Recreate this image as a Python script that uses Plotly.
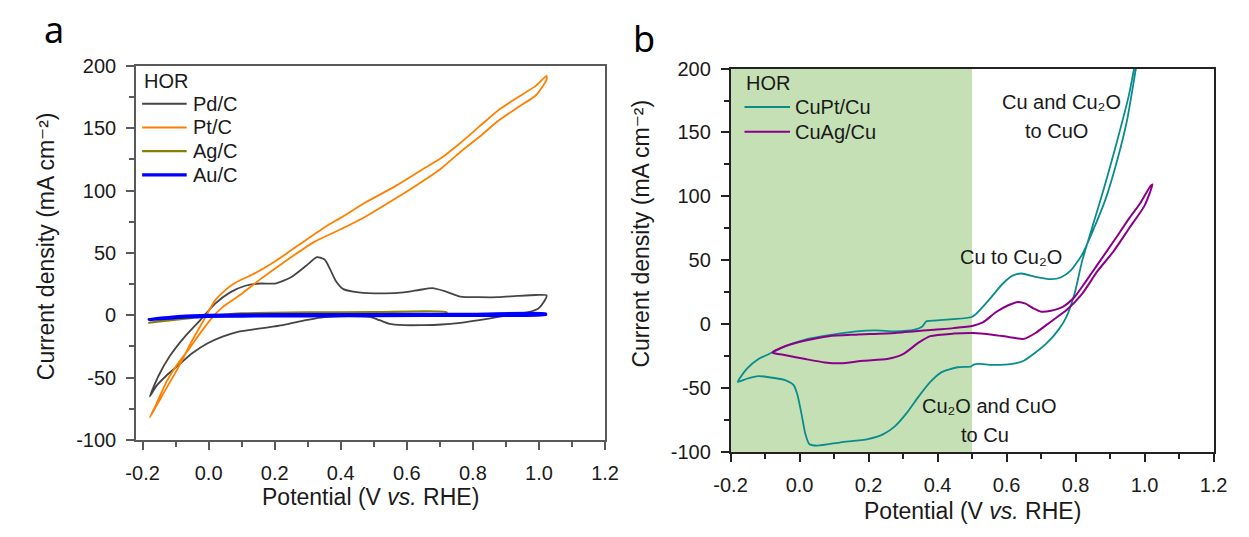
import plotly.graph_objects as go

W, H = 1249, 537

# ---------------- Panel a: HOR cyclic voltammograms on carbon-supported metals
pd_potential = [-0.178, -0.152, -0.118, -0.072, -0.026, 0.019, 0.065, 0.111, 0.157, 0.202, 0.248,
                0.294, 0.328, 0.351, 0.368, 0.385, 0.408, 0.454, 0.534, 0.591, 0.637, 0.677,
                0.717, 0.762, 0.819, 0.877, 0.934, 0.991, 1.023,
                1.014, 0.997, 0.968, 0.934, 0.877, 0.819, 0.762, 0.705, 0.648, 0.591, 0.545,
                0.517, 0.488, 0.454, 0.397, 0.339, 0.294, 0.225, 0.157, 0.088, 0.042, -0.003,
                -0.049, -0.095, -0.129, -0.158, -0.178]
pd_current = [-65.0, -48.7, -32.9, -17.1, -4.0, 9.2, 18.4, 23.7, 25.5, 25.5, 30.3,
              39.5, 46.6, 44.7, 36.8, 27.6, 21.0, 18.4, 17.6, 18.4, 20.3, 21.8,
              19.2, 15.0, 14.5, 14.5, 15.5, 16.3, 16.0,
              10.5, 5.3, 2.6, 1.3, -1.3, -3.9, -6.0, -7.4, -7.9, -7.9, -6.6,
              -3.9, -1.3, -0.8, -0.8, -1.8, -3.9, -7.9, -10.5, -13.2, -17.1, -22.4,
              -30.3, -40.8, -48.7, -56.6, -65.0]

pt_potential = [-0.178, -0.141, -0.095, -0.049, -0.015, 0.019, 0.054, 0.082, 0.134, 0.202, 0.288,
                0.362, 0.400, 0.477, 0.568, 0.648, 0.705, 0.762, 0.819, 0.877, 0.934, 0.991, 1.023,
                1.023, 0.991, 0.934, 0.877, 0.819, 0.762, 0.705, 0.648, 0.568, 0.477, 0.400,
                0.317, 0.225, 0.157, 0.099, 0.042, 0.008, -0.026, -0.061, -0.095, -0.129,
                -0.158, -0.178]
pt_current = [-82.0, -64.5, -43.4, -19.7, -4.0, 11.8, 21.0, 26.3, 32.9, 43.4, 59.2,
              72.4, 78.2, 90.8, 104.0, 117.1, 126.3, 138.2, 151.3, 164.5, 174.5, 184.2, 192.0,
              189.0, 176.5, 166.5, 156.0, 143.0, 131.0, 118.0, 107.5, 94.0, 79.5, 69.0,
              58.5, 42.0, 29.0, 17.1, 6.6, -2.6, -14.5, -27.6, -39.5, -54.0,
              -71.0, -82.0]

ag_potential = [-0.180, -0.120, -0.050, 0.000, 0.050, 0.100, 0.300, 0.500, 0.720,
                0.720, 0.500, 0.300, 0.100, 0.000, -0.100, -0.180]
ag_current = [-6.0, -4.0, -2.0, -0.5, 0.5, 1.5, 2.3, 2.5, 2.5,
              0.5, 0.3, 0.0, -0.5, -1.0, -3.0, -6.0]

au_potential = [-0.180, -0.150, -0.100, -0.050, 0.000, 0.100, 0.300, 0.500, 0.800, 1.020,
                1.020, 0.800, 0.500, 0.300, 0.100, 0.000, -0.100, -0.180]
au_current = [-3.5, -2.5, -1.2, -0.5, 0.0, 0.4, 0.5, 0.6, 0.8, 1.2,
              0.5, 0.0, -0.3, -0.4, -0.6, -0.8, -1.8, -3.5]

# ---------------- Panel b: Cu-based electrodes
cupt_potential = [-0.179, -0.153, -0.119, -0.079, -0.040, 0.017, 0.096, 0.164, 0.220, 0.277,
                  0.333, 0.356, 0.367, 0.390, 0.446, 0.497, 0.508, 0.548, 0.588, 0.616,
                  0.644, 0.684, 0.729, 0.757, 0.785, 0.819, 0.853, 0.887, 0.921, 0.949,
                  0.975, 1.000, 1.020,
                  0.990, 0.955, 0.921, 0.887, 0.853, 0.819, 0.797, 0.774, 0.751, 0.718,
                  0.684, 0.650, 0.616, 0.559, 0.520, 0.505, 0.497, 0.458, 0.412, 0.379,
                  0.345, 0.311, 0.277, 0.243, 0.198, 0.119, 0.051, 0.028, 0.017, 0.006,
                  -0.006, -0.017, -0.040, -0.073, -0.119, -0.153, -0.179]
cupt_current = [-45.1, -34.9, -27.2, -22.1, -17.0, -11.9, -8.1, -5.5, -4.7, -5.5,
                -4.2, -1.7, 2.2, 2.9, 4.0, 5.5, 7.2, 18.7, 31.5, 37.9,
                39.7, 37.1, 35.3, 36.6, 41.7, 54.5, 74.9, 97.9, 128.5, 159.2,
                200.0, 240.0, 272.0,
                230.0, 179.6, 143.8, 110.6, 80.0, 49.4, 23.8, 6.0, -4.2, -14.4,
                -22.1, -28.5, -31.0, -31.8, -31.0, -31.5, -33.0, -33.6, -37.4, -45.1,
                -56.6, -69.3, -79.6, -85.9, -89.8, -92.3, -94.9, -93.6, -85.9, -70.6,
                -55.3, -47.6, -43.8, -42.0, -40.5, -42.6, -45.1]

cuag_potential = [-0.079, -0.040, 0.017, 0.085, 0.164, 0.277, 0.390, 0.446, 0.503, 0.531,
                  0.571, 0.605, 0.633, 0.655, 0.678, 0.701, 0.729, 0.763, 0.797, 0.831,
                  0.864, 0.910, 0.955, 0.989, 1.017, 1.023,
                  1.000, 0.955, 0.910, 0.864, 0.819, 0.774, 0.729, 0.684, 0.650, 0.605,
                  0.559, 0.503, 0.446, 0.379, 0.345, 0.300, 0.254, 0.186, 0.119, 0.073,
                  0.017, -0.040, -0.079]
cuag_current = [-22.1, -17.0, -12.7, -9.3, -8.1, -6.8, -4.2, -3.0, -1.2, 1.4,
                9.8, 14.9, 17.5, 16.2, 12.4, 9.8, 10.6, 13.6, 21.3, 34.0,
                46.8, 64.7, 82.6, 95.3, 108.1, 109.4,
                92.8, 74.9, 57.0, 41.7, 23.8, 11.1, 2.2, -6.8, -11.4, -9.9,
                -8.1, -6.8, -7.3, -9.3, -14.4, -23.4, -27.2, -28.5, -30.5, -29.8,
                -27.2, -24.2, -22.1]

# HOR window shaded on panel b
hor_window = [-0.2, 0.5]

# Tick values / labels
x_tickvals = [-0.2, 0.0, 0.2, 0.4, 0.6, 0.8, 1.0, 1.2]
x_ticktext = ["-0.2", "0.0", "0.2", "0.4", "0.6", "0.8", "1.0", "1.2"]
y_tickvals = [-100, -50, 0, 50, 100, 150, 200]
y_ticktext = ["-100", "-50", "0", "50", "100", "150", "200"]

legend_a = ["Pd/C", "Pt/C", "Ag/C", "Au/C"]
legend_b = ["CuPt/Cu", "CuAg/Cu"]

FONT = "Liberation Sans, Arial, DejaVu Sans, sans-serif"
TXT = "#1a1a1a"
COL_A = {"Pd/C": "#454545", "Pt/C": "#ff8000", "Ag/C": "#8a8000", "Au/C": "#0000ff"}
WID_A = {"Pd/C": 1.8, "Pt/C": 1.8, "Ag/C": 2.2, "Au/C": 3.2}
COL_B = {"CuPt/Cu": "#0a8c8c", "CuAg/Cu": "#8a008a"}
WID_B = {"CuPt/Cu": 1.8, "CuAg/Cu": 2.0}


def px(x):
    return x / W


def py(y):
    return 1 - y / H


fig = go.Figure()

series_a = {
    "Pd/C": (pd_potential, pd_current),
    "Pt/C": (pt_potential, pt_current),
    "Ag/C": (ag_potential, ag_current),
    "Au/C": (au_potential, au_current),
}
for name, (v, j) in series_a.items():
    fig.add_trace(go.Scatter(x=v, y=j, mode="lines", name=name, showlegend=False,
                             line=dict(color=COL_A[name], width=WID_A[name],
                                       shape="spline", smoothing=0.6),
                             xaxis="x", yaxis="y"))

series_b = {
    "CuPt/Cu": (cupt_potential, cupt_current),
    "CuAg/Cu": (cuag_potential, cuag_current),
}
for name, (v, j) in series_b.items():
    fig.add_trace(go.Scatter(x=v, y=j, mode="lines", name=name, showlegend=False,
                             line=dict(color=COL_B[name], width=WID_B[name],
                                       shape="spline", smoothing=0.6),
                             xaxis="x2", yaxis="y2"))

# Panel box geometry (pixels): left, right, top, bottom
A_BOX = (122, 603, 57.3, 447.3)
B_BOX = (731.7, 1227, 60, 460)


def axis_common(color):
    return dict(showline=True, linecolor=color, linewidth=1.5, mirror=True,
                ticks="outside", ticklen=8, tickwidth=1.5, tickcolor=color,
                showgrid=False, zeroline=False,
                tickfont=dict(family=FONT, size=20, color=TXT),
                ticklabelstandoff=6)


def minor(color, tick0, dtick):
    return dict(ticks="outside", ticklen=5, tickwidth=1.5, tickcolor=color,
                tick0=tick0, dtick=dtick)


xa = axis_common("#5a5a5a")
xa.update(domain=[px(A_BOX[0]), px(A_BOX[1])], range=[-0.22, 1.2], anchor="y",
          tickmode="array", tickvals=x_tickvals, ticktext=x_ticktext,
          minor=minor("#5a5a5a", -0.1, 0.2))
ya = axis_common("#5a5a5a")
ya.update(domain=[py(A_BOX[3]), py(A_BOX[2])], range=[-100, 200], anchor="x",
          tickmode="array", tickvals=y_tickvals, ticktext=y_ticktext,
          minor=minor("#5a5a5a", -75, 50))
xb = axis_common("#222222")
xb.update(domain=[px(B_BOX[0]), px(B_BOX[1])], range=[-0.2, 1.2], anchor="y2",
          tickmode="array", tickvals=x_tickvals, ticktext=x_ticktext,
          minor=minor("#222222", -0.1, 0.2))
yb = axis_common("#222222")
yb.update(domain=[py(B_BOX[3]), py(B_BOX[2])], range=[-100, 200], anchor="x2",
          tickmode="array", tickvals=y_tickvals, ticktext=y_ticktext,
          minor=minor("#222222", -75, 50))

shapes = [
    dict(type="rect", xref="x2", yref="y2", x0=hor_window[0], x1=hor_window[1],
         y0=-100, y1=200, fillcolor="#c5e0b4", line=dict(width=0), layer="below"),
]
annotations = []


def text(x, y, s, size=20, xanchor="left", angle=0, family=FONT, color=TXT):
    annotations.append(dict(x=x, y=y, xref="paper", yref="paper", text=s, showarrow=False,
                            xanchor=xanchor, yanchor="middle", textangle=angle,
                            font=dict(family=family, size=size, color=color)))


# Legend of panel a
text(px(128), py(72.7), "HOR")
for i, name in enumerate(legend_a):
    yy = 96.7 + i * 24.7
    shapes.append(dict(type="line", xref="paper", yref="paper", x0=px(128.3), x1=px(174),
                       y0=py(yy), y1=py(yy),
                       line=dict(color=COL_A[name], width=max(WID_A[name], 2))))
    text(px(178), py(yy), name)

# Legend of panel b
text(px(745), py(75), "HOR")
for i, name in enumerate(legend_b):
    yy = 100 + i * 26
    shapes.append(dict(type="line", xref="paper", yref="paper", x0=px(746), x1=px(792.7),
                       y0=py(yy), y1=py(yy), line=dict(color=COL_B[name], width=2)))
    text(px(796), py(yy), name)

# Redox annotations on panel b (Unicode subscripts)
for s, v, j in [("Cu and Cu\u2082O", 0.759, 173.8),
                ("to CuO", 0.745, 151.3),
                ("Cu to Cu\u2082O", 0.612, 52.5),
                ("Cu\u2082O and CuO", 0.551, -63.7),
                ("to Cu", 0.537, -86.3)]:
    annotations.append(dict(x=v, y=j, xref="x2", yref="y2", text=s, showarrow=False,
                            xanchor="center", yanchor="middle",
                            font=dict(family=FONT, size=20, color=TXT)))

# Axis titles
text(px((A_BOX[0] + A_BOX[1]) / 2), py(507), "Potential (V <i>vs.</i> RHE)", size=23,
     xanchor="center")
text(px((B_BOX[0] + B_BOX[1]) / 2), py(521), "Potential (V <i>vs.</i> RHE)", size=23,
     xanchor="center")
y_title = "Current density (mA cm\u207b\u00b2)"
text(px(30), py(245), y_title, size=23, xanchor="center", angle=-90)
text(px(640), py(232), y_title, size=23, xanchor="center", angle=-90)

# Panel letters
text(px(38), py(19), "a", size=36, xanchor="center", family="Noto Sans, Open Sans, sans-serif",
     color="#000000")
text(px(643), py(29), "b", size=36, xanchor="center", family="Noto Sans, Open Sans, sans-serif",
     color="#000000")

fig.update_layout(
    width=W, height=H, margin=dict(l=0, r=0, t=0, b=0),
    paper_bgcolor="white", plot_bgcolor="rgba(0,0,0,0)",
    xaxis=xa, yaxis=ya, xaxis2=xb, yaxis2=yb,
    shapes=shapes, annotations=annotations, showlegend=False,
)

fig.write_html("out.html")
